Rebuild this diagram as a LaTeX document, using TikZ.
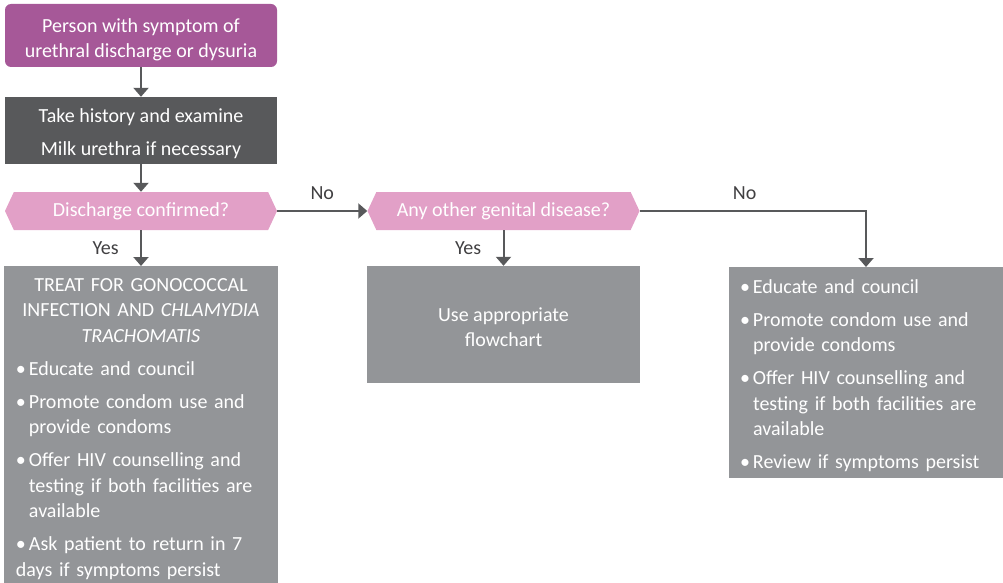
\documentclass[tikz,border=0pt]{standalone}
\usepackage{fontspec}
\setmainfont{Carlito}
\usetikzlibrary{shapes.symbols,arrows.meta}

\definecolor{plum}{RGB}{166,88,152}
\definecolor{slate}{RGB}{88,89,91}
\definecolor{rose}{RGB}{226,160,199}
\definecolor{ash}{RGB}{147,149,152}
\definecolor{ink}{RGB}{65,64,66}

\newcommand{\boxfont}{\fontsize{20}{25.5}\selectfont}
\newcommand{\bfirst}[1]{\rightskip=0pt plus 1fil\hangindent=13pt\hangafter=1\noindent\makebox[13pt][l]{\textbullet}#1}
\newcommand{\bitem}[1]{\par\vspace{7.5pt}\bfirst{#1}}

\tikzstyle{box} = [inner sep=0pt, text=white, align=center, font=\boxfont]
\tikzstyle{start} = [box, fill=plum, rounded corners=6pt, minimum width=272pt, minimum height=63pt]
\tikzstyle{action} = [box, fill=slate, minimum width=272pt, minimum height=67pt]
\tikzstyle{decision} = [box, shape=signal, signal to=west and east, signal pointer angle=130,
                        fill=rose, minimum width=272pt, minimum height=38pt]
\tikzstyle{result} = [box, fill=ash, minimum width=273pt, minimum height=117pt]
\tikzstyle{advice} = [box, fill=ash, align=left, text width=250pt, inner xsep=12pt, inner ysep=12pt]
\tikzstyle{edge} = [draw, line width=2pt, slate, -{Triangle[width=15pt,length=9pt]}]
\tikzstyle{answer} = [font=\boxfont, text=ink]

\begin{document}
\begin{tikzpicture}[x=1pt, y=-1pt]
\useasboundingbox (0,0) rectangle (1003,583);

\node[start] (person) at (141,35.5) {\rule{0pt}{22pt}Person with symptom of\\ urethral discharge or dysuria};
\node[action] (history) at (141,130.5) {\rule{0pt}{21pt}Take history and examine\\[7.5pt] Milk urethra if necessary};
\node[decision] (discharge) at (141,211) {Discharge confirmed?};
\node[decision] (genital) at (503.5,211) {Any other genital disease?};
\node[result] (flowchart) at (503.5,324.5) {\rule{0pt}{19pt}Use appropriate\\ flowchart};

\node[advice, anchor=north] (treat) at (141,266) {%
  {\centering TREAT FOR GONOCOCCAL\\ INFECTION AND \textit{CHLAMYDIA}\\ \textit{TRACHOMATIS}\par}%
  \bitem{Educate and council}%
  \bitem{Promote condom use and provide condoms}%
  \bitem{Offer HIV counselling and testing if both facilities are available}%
  \bitem{Ask patient to return in 7 days if symptoms persist}};

\node[advice, anchor=north, inner xsep=11pt, inner ysep=6pt, text width=252pt] (review) at (866,267) {%
  \bfirst{\rule{0pt}{20pt}Educate and council}%
  \bitem{Promote condom use and provide condoms}%
  \bitem{Offer HIV counselling and testing if both facilities are available}%
  \bitem{Review if symptoms persist}};

\foreach \source/\dest in {person/history, history/discharge}
  \path[edge] (\source.south) -- (\dest.north);

\foreach \source/\dest in {discharge/treat, genital/flowchart}
  \path[edge] (\source.south) -- node[answer, left=18pt] {Yes} (\dest.north);

\path[edge] (discharge.east) -- node[answer, above=7pt] {No} (genital.west);
\path[edge] (genital.east) -| node[answer, pos=0.232, above=7pt] {No} (review.north);
\end{tikzpicture}
\end{document}
